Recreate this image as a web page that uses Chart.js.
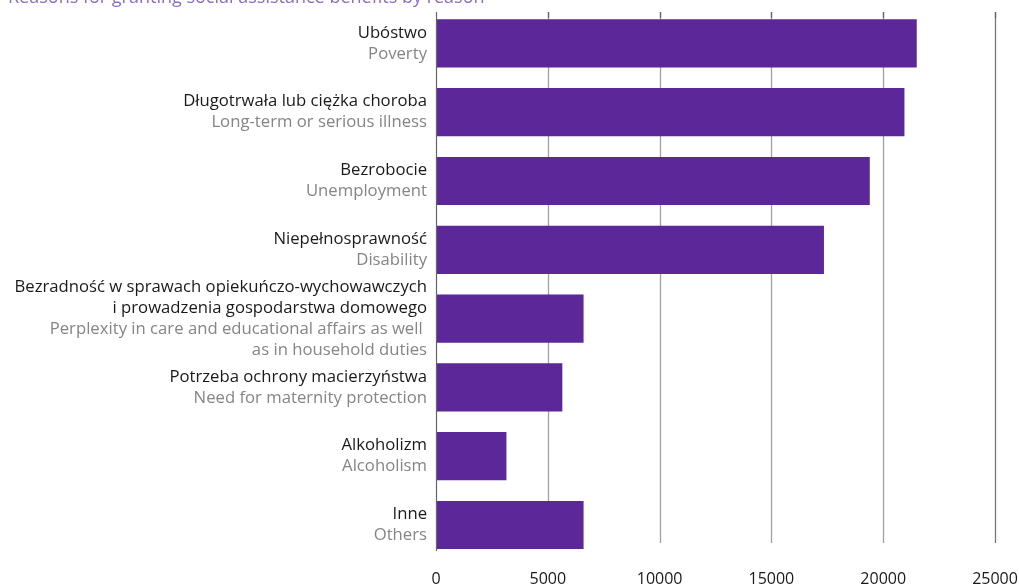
<!DOCTYPE html>
<html>
<head>
<meta charset="utf-8">
<script src="https://cdn.jsdelivr.net/npm/chart.js@4.4.1/dist/chart.umd.min.js"></script>
<style>
  html, body { margin: 0; padding: 0; background: #ffffff; }
  #wrap { width: 1019px; height: 586px; position: relative; }
</style>
</head>
<body>
<div id="wrap"><canvas id="c"></canvas></div>
<script>
// ---- data ----
const labelsPl = [
  ["Ubóstwo"],
  ["Długotrwała lub ciężka choroba"],
  ["Bezrobocie"],
  ["Niepełnosprawność"],
  ["Bezradność w sprawach opiekuńczo-wychowawczych", "i prowadzenia gospodarstwa domowego"],
  ["Potrzeba ochrony macierzyństwa"],
  ["Alkoholizm"],
  ["Inne"]
];
const labelsEn = [
  ["Poverty"],
  ["Long-term or serious illness"],
  ["Unemployment"],
  ["Disability"],
  ["Perplexity in care and educational affairs as well ", "as in household duties"],
  ["Need for maternity protection"],
  ["Alcoholism"],
  ["Others"]
];
const values = [21500, 20950, 19400, 17350, 6600, 5650, 3150, 6600];
const xTicks = [0, 5000, 10000, 15000, 20000, 25000];
const titleText = "Reasons for granting social assistance benefits by reason";

const FONT = "'Open Sans', 'DejaVu Sans', sans-serif";
const BAR = "#5c2799";

const gridPlugin = {
  id: "customGrid",
  beforeDatasetsDraw(chart) {
    const ctx = chart.ctx;
    const xs = chart.scales.x;
    ctx.save();
    xTicks.forEach(v => {
      const x = Math.round(xs.getPixelForValue(v)) + 0.5;
      if (v === 0) return;
      ctx.strokeStyle = v === 25000 ? "#777777" : "#a0a0a0";
      ctx.lineWidth = 1.3;
      ctx.beginPath(); ctx.moveTo(x, 12); ctx.lineTo(x, 543); ctx.stroke();
      ctx.strokeStyle = "#666666";
      ctx.beginPath(); ctx.moveTo(x, 12); ctx.lineTo(x, 18); ctx.stroke();
    });
    ctx.restore();
  },
  afterDatasetsDraw(chart) {
    const ctx = chart.ctx;
    const xs = chart.scales.x;
    const x = Math.round(xs.getPixelForValue(0)) + 0.5;
    ctx.save();
    ctx.strokeStyle = "#666666";
    ctx.lineWidth = 1.2;
    ctx.beginPath(); ctx.moveTo(x, 12); ctx.lineTo(x, 551); ctx.stroke();
    ctx.restore();
  }
};

const labelPlugin = {
  id: "twoColorLabels",
  afterDraw(chart) {
    const ctx = chart.ctx;
    const ys = chart.scales.y;
    const right = chart.chartArea.left - 9;
    ctx.save();
    ctx.font = "16.7px " + FONT;
    ctx.textAlign = "right";
    ctx.textBaseline = "middle";
    const lh = 21;
    labelsPl.forEach((pl, i) => {
      const lines = pl.map(t => [t, "#1a1a1a"]).concat(labelsEn[i].map(t => [t, "#858585"]));
      const cy = ys.getPixelForTick(i);
      let y = cy - (lines.length - 1) * lh / 2;
      lines.forEach(([t, c]) => {
        ctx.fillStyle = c;
        ctx.fillText(t, right, y);
        y += lh;
      });
    });
    // cut-off title at the very top
    ctx.font = "18px " + FONT;
    ctx.textAlign = "left";
    ctx.textBaseline = "alphabetic";
    ctx.fillStyle = "#8a6cc8";
    ctx.fillText(titleText, 8, 2.5);
    ctx.restore();
  }
};

new Chart(document.getElementById("c"), {
  type: "bar",
  data: {
    labels: labelsPl.map(l => l.join(" ")),
    datasets: [{
      data: values,
      backgroundColor: BAR,
      borderWidth: 0,
      barPercentage: 0.7,
      categoryPercentage: 1.0
    }]
  },
  options: {
    indexAxis: "y",
    responsive: true,
    maintainAspectRatio: false,
    animation: false,
    layout: { padding: { top: 9, bottom: 0, left: 0, right: 24 } },
    plugins: { legend: { display: false }, tooltip: { enabled: false }, title: { display: false } },
    scales: {
      x: {
        type: "linear",
        min: 0, max: 25000,
        afterBuildTicks(scale) { scale.ticks = xTicks.map(v => ({ value: v })); },
        afterFit(scale) { scale.height = 26.6; scale.paddingRight = 0; scale.paddingLeft = 0; },
        ticks: { color: "#1a1a1a", font: { family: FONT, size: 16 }, padding: 10, maxRotation: 0,
                 callback: v => String(v) },
        grid: { display: false, drawTicks: false },
        border: { display: false }
      },
      y: {
        type: "category",
        ticks: { display: false },
        grid: { display: false, drawTicks: false },
        border: { display: false },
        afterFit(scale) { scale.width = 436; }
      }
    }
  },
  plugins: [gridPlugin, labelPlugin]
});
</script>
</body>
</html>
